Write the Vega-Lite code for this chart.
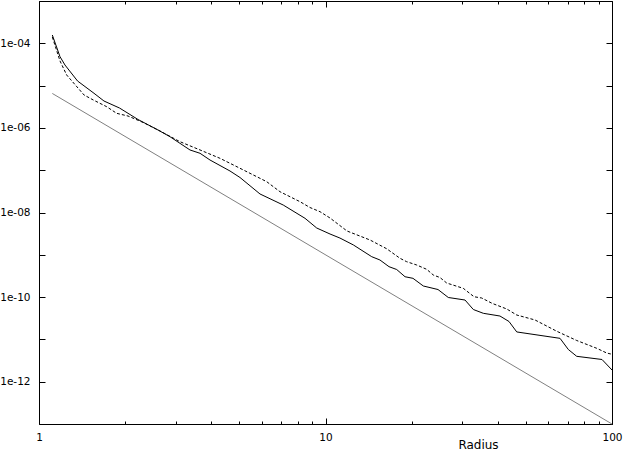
{
  "$schema": "https://vega.github.io/schema/vega-lite/v6.json",
  "width": 573,
  "height": 423,
  "autosize": {"type": "none"},
  "padding": {"left": 39, "top": 1, "right": 11, "bottom": 31},
  "background": "white",
  "config": {
    "view": {"stroke": "black", "strokeWidth": 1},
    "axis": {
      "grid": false,
      "domain": false,
      "tickColor": "black",
      "tickWidth": 1,
      "labelFont": "DejaVu Sans",
      "labelFontSize": 10.5,
      "labelColor": "black",
      "titleFont": "DejaVu Sans",
      "titleFontSize": 12,
      "titleFontWeight": "normal",
      "titleColor": "black",
      "labelOverlap": false,
      "labelFlush": false
    }
  },
  "data": {
    "values": [
      {"s": "a", "x": 1.113, "y": 1.571e-4},
      {"s": "a", "x": 1.184, "y": 4.82e-5},
      {"s": "a", "x": 1.232, "y": 3.07e-5},
      {"s": "a", "x": 1.363, "y": 1.285e-5},
      {"s": "a", "x": 1.556, "y": 6.58e-6},
      {"s": "a", "x": 1.686, "y": 4.32e-6},
      {"s": "a", "x": 1.910, "y": 2.95e-6},
      {"s": "a", "x": 2.216, "y": 1.58e-6},
      {"s": "a", "x": 2.603, "y": 8.91e-7},
      {"s": "a", "x": 2.866, "y": 6.19e-7},
      {"s": "a", "x": 3.365, "y": 3.01e-7},
      {"s": "a", "x": 3.648, "y": 2.51e-7},
      {"s": "a", "x": 3.953, "y": 1.74e-7},
      {"s": "a", "x": 4.642, "y": 9.57e-8},
      {"s": "a", "x": 5.030, "y": 6.72e-8},
      {"s": "a", "x": 5.907, "y": 2.74e-8},
      {"s": "a", "x": 7.122, "y": 1.50e-8},
      {"s": "a", "x": 8.482, "y": 7.29e-9},
      {"s": "a", "x": 9.318, "y": 4.30e-9},
      {"s": "a", "x": 10.37, "y": 3.10e-9},
      {"s": "a", "x": 11.23, "y": 2.49e-9},
      {"s": "a", "x": 12.51, "y": 1.71e-9},
      {"s": "a", "x": 14.50, "y": 9.02e-10},
      {"s": "a", "x": 15.49, "y": 7.54e-10},
      {"s": "a", "x": 16.66, "y": 5.24e-10},
      {"s": "a", "x": 17.72, "y": 4.49e-10},
      {"s": "a", "x": 18.95, "y": 3.03e-10},
      {"s": "a", "x": 20.20, "y": 2.78e-10},
      {"s": "a", "x": 21.95, "y": 1.83e-10},
      {"s": "a", "x": 24.70, "y": 1.51e-10},
      {"s": "a", "x": 26.83, "y": 9.79e-11},
      {"s": "a", "x": 30.69, "y": 8.53e-11},
      {"s": "a", "x": 32.81, "y": 5.09e-11},
      {"s": "a", "x": 35.55, "y": 4.14e-11},
      {"s": "a", "x": 40.64, "y": 3.57e-11},
      {"s": "a", "x": 43.70, "y": 2.65e-11},
      {"s": "a", "x": 46.51, "y": 1.50e-11},
      {"s": "a", "x": 65.85, "y": 1.06e-11},
      {"s": "a", "x": 70.40, "y": 5.77e-12},
      {"s": "a", "x": 75.31, "y": 3.98e-12},
      {"s": "a", "x": 92.28, "y": 3.35e-12},
      {"s": "a", "x": 100, "y": 1.89e-12},
      {"s": "b", "x": 1.113, "y": 1.41e-4},
      {"s": "b", "x": 1.184, "y": 3.82e-5},
      {"s": "b", "x": 1.249, "y": 1.78e-5},
      {"s": "b", "x": 1.368, "y": 8.77e-6},
      {"s": "b", "x": 1.436, "y": 6.00e-6},
      {"s": "b", "x": 1.547, "y": 4.57e-6},
      {"s": "b", "x": 1.723, "y": 3.17e-6},
      {"s": "b", "x": 1.867, "y": 2.21e-6},
      {"s": "b", "x": 2.045, "y": 1.91e-6},
      {"s": "b", "x": 2.312, "y": 1.34e-6},
      {"s": "b", "x": 2.645, "y": 8.45e-7},
      {"s": "b", "x": 3.105, "y": 4.72e-7},
      {"s": "b", "x": 3.648, "y": 3.01e-7},
      {"s": "b", "x": 4.283, "y": 1.91e-7},
      {"s": "b", "x": 5.030, "y": 1.11e-7},
      {"s": "b", "x": 6.234, "y": 5.35e-8},
      {"s": "b", "x": 6.937, "y": 3.10e-8},
      {"s": "b", "x": 8.147, "y": 1.80e-8},
      {"s": "b", "x": 8.829, "y": 1.31e-8},
      {"s": "b", "x": 9.568, "y": 1.045e-8},
      {"s": "b", "x": 10.37, "y": 7.41e-9},
      {"s": "b", "x": 11.89, "y": 3.65e-9},
      {"s": "b", "x": 14.30, "y": 2.24e-9},
      {"s": "b", "x": 16.35, "y": 1.39e-9},
      {"s": "b", "x": 18.20, "y": 8.26e-10},
      {"s": "b", "x": 19.20, "y": 6.87e-10},
      {"s": "b", "x": 20.81, "y": 5.74e-10},
      {"s": "b", "x": 22.55, "y": 4.54e-10},
      {"s": "b", "x": 23.78, "y": 3.33e-10},
      {"s": "b", "x": 25.10, "y": 2.90e-10},
      {"s": "b", "x": 26.49, "y": 2.15e-10},
      {"s": "b", "x": 30.27, "y": 1.61e-10},
      {"s": "b", "x": 32.99, "y": 1.02e-10},
      {"s": "b", "x": 35.09, "y": 9.52e-11},
      {"s": "b", "x": 38.13, "y": 7.13e-11},
      {"s": "b", "x": 42.91, "y": 5.24e-11},
      {"s": "b", "x": 46.51, "y": 3.77e-11},
      {"s": "b", "x": 53.86, "y": 2.88e-11},
      {"s": "b", "x": 64.12, "y": 1.56e-11},
      {"s": "b", "x": 75.31, "y": 9.42e-12},
      {"s": "b", "x": 88.45, "y": 6.16e-12},
      {"s": "b", "x": 95.83, "y": 4.77e-12},
      {"s": "b", "x": 100, "y": 4.45e-12},
      {"s": "c", "x": 1.113, "y": 6.52e-6},
      {"s": "c", "x": 100, "y": 1e-13}
    ]
  },
  "layer": [
    {
      "transform": [{"filter": "datum.s == 'a'"}],
      "mark": {"type": "line", "color": "black", "strokeWidth": 1},
      "encoding": {
        "x": {"field": "x", "type": "quantitative",
          "scale": {"type": "log", "domain": [1, 100], "nice": false},
          "axis": {"orient": "bottom", "title": "Radius", "offset": -3,
            "values": [1,2,3,4,5,6,7,8,9,10,20,30,40,50,60,70,80,90,100],
            "tickSize": 3, "labelPadding": 8,
            "labelExpr": "(datum.value == 1 || datum.value == 10 || datum.value == 100) ? '' + datum.value : ''",
            "titleX": 439, "titleY": 27, "titleAlign": "center", "titleBaseline": "alphabetic", "titleAnchor": null}},
        "y": {"field": "y", "type": "quantitative",
          "scale": {"type": "log", "domain": [1e-13, 1e-3], "nice": false},
          "axis": {"orient": "left", "title": null, "offset": -6,
            "values": [1e-13,1e-12,1e-11,1e-10,1e-9,1e-8,1e-7,1e-6,1e-5,1e-4,1e-3],
            "tickSize": 6, "labelPadding": 9,
            "labelExpr": "(round(log(datum.value)/LN10) % 2 == 0) ? '1e-' + (abs(round(log(datum.value)/LN10)) < 10 ? '0' : '') + abs(round(log(datum.value)/LN10)) : ''"}}
      }
    },
    {
      "transform": [{"filter": "datum.s == 'b'"}],
      "mark": {"type": "line", "color": "black", "strokeWidth": 1, "strokeDash": [3, 2]},
      "encoding": {
        "x": {"field": "x", "type": "quantitative",
          "scale": {"type": "log", "domain": [1, 100], "nice": false},
          "axis": {"orient": "top", "title": null, "labels": false, "offset": -3,
            "values": [1,2,3,4,5,6,7,8,9,10,20,30,40,50,60,70,80,90,100],
            "tickSize": 3}},
        "y": {"field": "y", "type": "quantitative",
          "scale": {"type": "log", "domain": [1e-13, 1e-3], "nice": false},
          "axis": {"orient": "right", "title": null, "labels": false, "offset": -6,
            "values": [1e-13,1e-12,1e-11,1e-10,1e-9,1e-8,1e-7,1e-6,1e-5,1e-4,1e-3],
            "tickSize": 6}}
      }
    },
    {
      "transform": [{"filter": "datum.s == 'c'"}],
      "mark": {"type": "line", "color": "#808080", "strokeWidth": 1},
      "encoding": {
        "x": {"field": "x", "type": "quantitative",
          "scale": {"type": "log", "domain": [1, 100], "nice": false},
          "axis": {"orient": "bottom", "title": null, "labels": false, "offset": -6,
            "values": [10], "tickSize": 6}},
        "y": {"field": "y", "type": "quantitative",
          "scale": {"type": "log", "domain": [1e-13, 1e-3], "nice": false},
          "axis": null}
      }
    },
    {
      "transform": [{"filter": "datum.s == 'c'"}],
      "mark": {"type": "line", "color": "#808080", "strokeWidth": 1, "opacity": 0},
      "encoding": {
        "x": {"field": "x", "type": "quantitative",
          "scale": {"type": "log", "domain": [1, 100], "nice": false},
          "axis": {"orient": "top", "title": null, "labels": false, "offset": -6,
            "values": [10], "tickSize": 6}},
        "y": {"field": "y", "type": "quantitative",
          "scale": {"type": "log", "domain": [1e-13, 1e-3], "nice": false},
          "axis": null}
      }
    }
  ],
  "resolve": {"axis": {"x": "independent", "y": "independent"}}
}
